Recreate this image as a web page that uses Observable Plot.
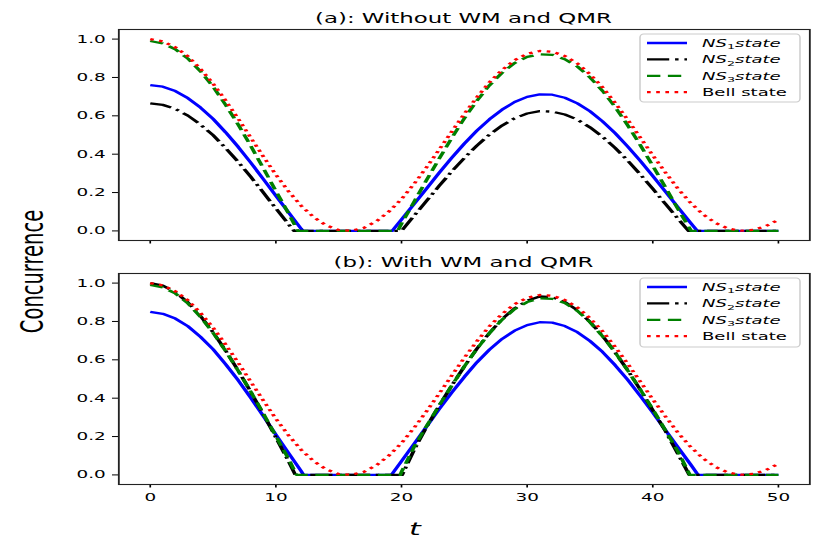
<!DOCTYPE html>
<html><head><meta charset="utf-8">
<script src="https://cdn.jsdelivr.net/npm/d3@7"></script>
<script src="https://cdn.jsdelivr.net/npm/@observablehq/plot@0.6"></script>
<style>
html,body{margin:0;padding:0;background:#fff;overflow:hidden;}
#wrap{position:relative;width:830px;height:545px;background:#fff;}
#wrap svg{display:block;}
</style></head><body><div id="wrap"></div>
<script>
// ---- data ----
const t = [0,1,2,3,4,5,6,7,8,9,10,11,12,13,14,15,16,17,18,19,20,21,22,23,24,25,26,27,28,29,30,31,32,33,34,35,36,37,38,39,40,41,42,43,44,45,46,47,48,49,50];

const bell = [1.000,0.988,0.957,0.910,0.845,0.768,0.680,0.585,0.486,0.388,0.293,0.207,0.132,0.072,0.029,0.005,0.001,0.016,0.050,0.101,0.166,0.245,0.332,0.424,0.518,0.611,0.697,0.775,0.839,0.890,0.923,0.938,0.934,0.912,0.873,0.817,0.749,0.668,0.580,0.487,0.394,0.305,0.220,0.147,0.086,0.041,0.012,0.001,0.005,0.025,0.058];

// panel (a): without WM and QMR
const ns1A = [0.760,0.752,0.729,0.692,0.643,0.584,0.514,0.438,0.356,0.270,0.183,0.097,0.012,0,0,0,0,0,0,0,0.059,0.140,0.221,0.303,0.381,0.455,0.523,0.582,0.632,0.672,0.699,0.712,0.710,0.694,0.665,0.624,0.571,0.510,0.440,0.366,0.286,0.205,0.123,0.043,0,0,0,0,0,0,0];
const ns2A = [0.665,0.657,0.636,0.601,0.554,0.499,0.432,0.360,0.282,0.200,0.117,0.035,0,0,0,0,0,0,0,0,0,0.079,0.157,0.235,0.310,0.380,0.445,0.502,0.549,0.587,0.612,0.624,0.622,0.607,0.580,0.540,0.491,0.433,0.367,0.295,0.220,0.141,0.064,0,0,0,0,0,0,0,0];
const ns3A = [0.990,0.977,0.947,0.898,0.832,0.752,0.657,0.554,0.443,0.327,0.208,0.092,0,0,0,0,0,0,0,0,0.038,0.152,0.266,0.377,0.485,0.587,0.679,0.759,0.824,0.875,0.907,0.921,0.918,0.895,0.857,0.800,0.730,0.646,0.551,0.448,0.339,0.228,0.115,0.006,0,0,0,0,0,0,0];
const ns1ACross = [12.15, 19.25, 43.55];
const ns2ACross = [11.45, 19.95, 42.85];
const ns3ACross = [11.75, 19.7, 43.05];

// panel (b): with WM and QMR
const ns1B = [0.850,0.840,0.815,0.775,0.720,0.655,0.577,0.493,0.402,0.307,0.210,0.115,0.021,0,0,0,0,0,0,0,0.072,0.162,0.252,0.343,0.430,0.511,0.587,0.653,0.709,0.752,0.781,0.796,0.794,0.776,0.744,0.698,0.641,0.572,0.496,0.412,0.325,0.234,0.144,0.056,0,0,0,0,0,0,0];
const ns2B = [1.000,0.987,0.953,0.899,0.828,0.744,0.648,0.544,0.433,0.317,0.195,0.072,0,0,0,0,0,0,0,0,0,0.130,0.251,0.361,0.466,0.565,0.658,0.740,0.812,0.868,0.908,0.930,0.927,0.901,0.858,0.798,0.725,0.639,0.546,0.445,0.338,0.229,0.110,0,0,0,0,0,0,0,0];
const ns3B = [0.990,0.978,0.946,0.894,0.824,0.741,0.646,0.543,0.434,0.320,0.203,0.085,0,0,0,0,0,0,0,0,0.016,0.146,0.255,0.362,0.466,0.565,0.657,0.739,0.809,0.864,0.901,0.920,0.918,0.896,0.855,0.796,0.723,0.639,0.545,0.446,0.342,0.234,0.123,0,0,0,0,0,0,0,0];
const ns1BCross = [12.2, 19.2, 43.6];
const ns2BCross = [11.55, 20.05, 42.9];
const ns3BCross = [11.65, 19.9, 42.95];

const xTicks = [0,10,20,30,40,50];
const yTicks = [0,0.2,0.4,0.6,0.8,1.0];
const legendMain = ["NS","NS","NS","Bell state"];
const legendSub = ["1","2","3",""];
const legendTail = ["state","state","state",""];
const titles = ["(a): Without WM and QMR","(b): With WM and QMR"];
const colors = ["#0000ff","#000000","#008000","#ff0000"];
const dashes = [null,"13.3,3.5,2.1,3.5","8,4.5","2.2,3.3"];

// ---- layout: drawn in a narrower logical frame, then stretched horizontally like the reference ----
const REAL_W = 830, W = 497, S = REAL_W / W;
const mL = 118 / S, mR = W - 809 / S;
const FONT = "DejaVu Sans";
const LW = 2.3;

function build(vals, cross) {
  const pts = t.map((x, i) => ({t: x, v: vals[i]}));
  for (const c of cross) pts.push({t: c, v: 0});
  pts.sort((a, b) => a.t - b.t);
  return pts;
}

const panels = [
  {H: 250, mt: 29, mb: 10, labels: false, titleY: 23, legY: 34, legH: 68, rowY0: 43,
   vals: [ns1A, ns2A, ns3A, bell], cross: [ns1ACross, ns2ACross, ns3ACross, []]},
  {H: 295, mt: 23, mb: 61, labels: true, titleY: 17, legY: 28, legH: 69, rowY0: 37,
   vals: [ns1B, ns2B, ns3B, bell], cross: [ns1BCross, ns2BCross, ns3BCross, []]}
];

const wrap = document.getElementById("wrap");

panels.forEach((p, pi) => {
  const lines = p.vals.map((v, k) => Plot.line(build(v, p.cross[k]), {
    x: "t", y: "v", stroke: colors[k], strokeWidth: LW,
    strokeDasharray: dashes[k] || undefined, strokeLinecap: "butt", strokeLinejoin: "round"
  }));
  const svg = Plot.plot({
    width: W, height: p.H,
    marginLeft: mL, marginRight: mR, marginTop: p.mt, marginBottom: p.mb,
    style: {fontFamily: FONT, fontSize: "11px", color: "#000", background: "#fff"},
    x: {domain: [-2.5, 52.5]},
    y: {domain: [-0.05, 1.05]},
    marks: [
      ...lines,
      Plot.axisY({ticks: yTicks, tickSize: 3.6, tickPadding: 4.2, tickFormat: d => d.toFixed(1), label: null}),
      Plot.axisX({ticks: xTicks, tickSize: 3.5, tickPadding: 5.5, tickFormat: p.labels ? (d => String(d)) : (() => ""), label: null}),
      Plot.frame({stroke: "#222", strokeWidth: 1.1})
    ]
  });
  svg.setAttribute("width", REAL_W);
  svg.setAttribute("preserveAspectRatio", "none");
  svg.style.width = REAL_W + "px";
  svg.style.height = p.H + "px";
  svg.style.maxWidth = "none";
  wrap.appendChild(svg);

  const g = d3.select(svg);
  // title
  g.append("text")
    .attr("x", (mL + (W - mR)) / 2).attr("y", p.titleY)
    .attr("text-anchor", "middle").attr("font-size", 13.7).attr("font-family", FONT)
    .attr("fill", "#000").text(titles[pi]);
  // legend
  const lx = 640 / S, lw = (800 - 640) / S;
  const leg = g.append("g").attr("text-anchor", "start");
  leg.append("rect").attr("x", lx).attr("y", p.legY).attr("width", lw).attr("height", p.legH)
    .attr("rx", 2.2).attr("ry", 3.5).attr("fill", "#fff").attr("fill-opacity", 0.8)
    .attr("stroke", "#cccccc").attr("stroke-width", 0.9);
  for (let k = 0; k < 4; k++) {
    const y = p.rowY0 + k * 16.4;
    leg.append("line").attr("x1", 647 / S).attr("x2", 687 / S).attr("y1", y).attr("y2", y)
      .attr("stroke", colors[k]).attr("stroke-width", LW)
      .attr("stroke-dasharray", dashes[k]).attr("stroke-linecap", "butt");
    const tx = leg.append("text").attr("x", 702 / S).attr("y", y).attr("dy", "0.36em")
      .attr("text-anchor", "start")
      .attr("font-size", 10.8).attr("font-family", FONT).attr("fill", "#000");
    if (legendSub[k]) {
      tx.append("tspan").attr("font-style", "italic").text(legendMain[k]);
      tx.append("tspan").attr("font-size", 7.6).attr("dy", 2.6).text(legendSub[k]);
      tx.append("tspan").attr("font-style", "italic").attr("dy", -2.6).text(legendTail[k]);
    } else {
      tx.text(legendMain[k]);
    }
  }
});

// overlay for shared axis labels
const ov = d3.select(wrap).append("svg")
  .attr("viewBox", `0 0 ${W} 545`).attr("width", REAL_W).attr("height", 545)
  .attr("preserveAspectRatio", "none")
  .style("position", "absolute").style("left", "0px").style("top", "0px")
  .style("pointer-events", "none");
ov.append("text")
  .attr("transform", `translate(${43 / S},271.5) rotate(-90)`)
  .attr("text-anchor", "middle").attr("font-size", 19.5).attr("font-family", FONT)
  .attr("fill", "#000").text("Concurrence");
ov.append("text")
  .attr("x", 415 / S).attr("y", 535).attr("text-anchor", "middle")
  .attr("font-size", 18).attr("font-style", "italic").attr("font-family", FONT)
  .attr("fill", "#000").text("t");
</script>
</body></html>
